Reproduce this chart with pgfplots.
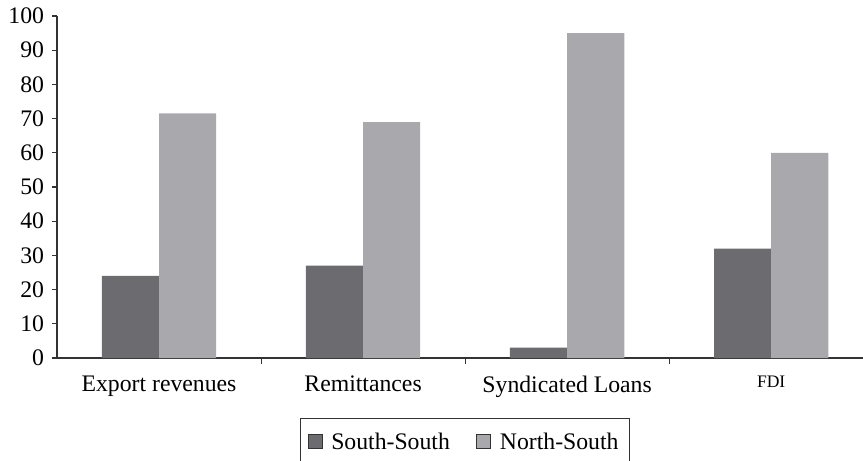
\documentclass[border=0pt]{standalone}
\usepackage{pgfplots}
\pgfplotsset{compat=1.18}
\usepackage{fontspec}
\setmainfont{Liberation Serif}
\definecolor{ssdark}{RGB}{108,108,112}
\definecolor{nslight}{RGB}{169,169,173}
\begin{document}
\begin{tikzpicture}
\path[use as bounding box] (0,0) rectangle (17.26cm,9.2cm);
\begin{axis}[
  at={(1.14cm,2.04cm)}, anchor=south west,
  scale only axis, width=16.12cm, height=6.84cm,
  xmin=-0.5, xmax=3.45, ymin=0, ymax=100,
  axis x line*=bottom, axis y line*=left,
  axis line style={black!80, line width=0.6pt},
  ybar=0pt, bar width=0.28,
  ytick={0,10,...,100},
  xtick={0,1,2,3},
  xticklabels={Export revenues, Remittances, Syndicated Loans, {\fontsize{10}{12}\selectfont FDI}},
  minor xtick={0.5,1.5,2.5},
  major x tick style={draw=none},
  minor x tick style={black!80, line width=0.6pt},
  minor tick length=0.12cm,
  major tick length=0.1cm,
  tick align=outside,
  y tick style={black!80, line width=0.6pt},
  /pgf/number format/assume math mode=true,
  tick label style={font=\fontsize{13.5}{16}\selectfont},
  yticklabel style={xshift=-1pt},
  xticklabel style={yshift=-4pt},
  legend style={at={(0.506,-0.1754)}, anchor=north, legend columns=2,
    draw=black!80, line width=0.6pt, font=\fontsize{13.5}{16}\selectfont,
    inner xsep=4pt, inner ysep=6pt,
    /tikz/every odd column/.append style={column sep=3pt},
    /tikz/every even column/.append style={column sep=13pt}},
  legend image code/.code={\draw[#1, draw=black!80, line width=0.5pt] (0cm,-0.13cm) rectangle (0.28cm,0.15cm);},
]
\addplot[fill=ssdark, draw=none] coordinates {(0,24) (1,27) (2,3) (3,32)};
\addplot[fill=nslight, draw=none] coordinates {(0,71.5) (1,69) (2,95) (3,60)};
\legend{South-South, North-South}
\end{axis}
\end{tikzpicture}
\end{document}
